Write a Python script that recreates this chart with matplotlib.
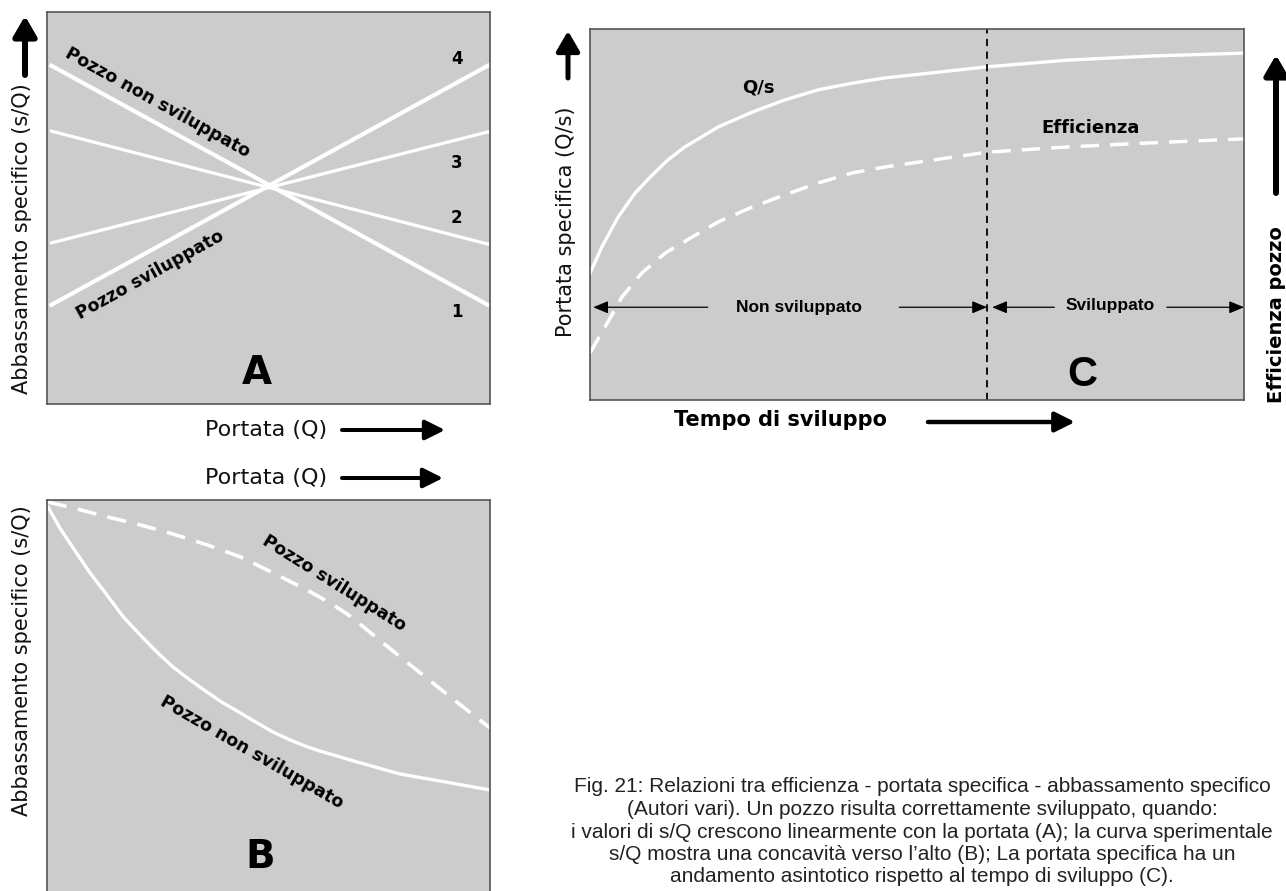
import matplotlib
matplotlib.use("Agg")
import matplotlib.pyplot as plt

W, H = 1286, 891
GRAY = "#cccccc"
EDGE = "#555555"
NARROW = ["Liberation Sans Narrow", "Liberation Sans", "DejaVu Sans"]

# --- panel A: straight s/Q lines (x from 0 to 10) ---
a_x = [0.1, 9.95]
a_line1 = [8.63, 2.53]   # pozzo non sviluppato
a_line2 = [6.96, 4.08]
a_line3 = [4.11, 6.94]
a_line4 = [2.53, 8.63]   # pozzo sviluppato
a_labels = ["4", "3", "2", "1"]
a_label_y = [8.8, 6.15, 4.75, 2.35]

# --- panel B: curves of s/Q (axis pointing down) ---
b_dev_x = [0.02, 0.59, 1.35, 2.1, 2.84, 3.61, 4.36, 5.1, 5.87, 6.46, 6.84, 7.97, 9.1, 10.0]
b_dev_y = [9.95, 9.8, 9.58, 9.38, 9.15, 8.88, 8.58, 8.18, 7.75, 7.38, 7.1, 6.08, 5.08, 4.3]
b_non_x = [0.02, 0.29, 0.59, 0.97, 1.35, 1.72, 2.1, 2.48, 2.84, 3.23, 3.61, 3.97,
           4.36, 4.74, 5.1, 5.49, 5.87, 6.23, 6.61, 6.84, 7.97, 9.1, 10.0]
b_non_y = [9.83, 9.3, 8.8, 8.18, 7.63, 7.08, 6.63, 6.2, 5.83, 5.5, 5.2, 4.93,
           4.68, 4.43, 4.2, 4.0, 3.83, 3.7, 3.58, 3.5, 3.15, 2.93, 2.75]

# --- panel C: Q/s and efficiency vs development time ---
c_qs_x = [0, 0.18, 0.43, 0.69, 0.95, 1.19, 1.45, 1.96, 2.48, 2.98, 3.49, 4.01,
          4.51, 6.07, 7.29, 8.56, 10.0]
c_qs_y = [3.42, 4.12, 4.93, 5.58, 6.06, 6.47, 6.82, 7.36, 7.76, 8.09, 8.36, 8.54,
          8.68, 8.98, 9.16, 9.27, 9.35]
c_eff_x = [0, 0.23, 0.49, 0.79, 1.15, 1.56, 1.96, 2.48, 2.98, 3.49, 4.01, 4.51,
           6.07, 7.29, 8.56, 10.0]
c_eff_y = [1.27, 1.97, 2.78, 3.42, 3.96, 4.39, 4.8, 5.2, 5.53, 5.85, 6.12, 6.28,
           6.68, 6.82, 6.93, 7.04]
c_split = 6.07

caption = [
    "Fig. 21: Relazioni tra efficienza - portata specifica - abbassamento specifico",
    "(Autori vari). Un pozzo risulta correttamente sviluppato, quando:",
    "i valori di s/Q crescono linearmente con la portata (A); la curva sperimentale",
    "s/Q mostra una concavità verso l’alto (B); La portata specifica ha un",
    "andamento asintotico rispetto al tempo di sviluppo (C).",
]


def rect(x0, y0, x1, y1):
    # pixel box (top-left origin) -> figure fraction
    return [x0 / W, 1 - y1 / H, (x1 - x0) / W, (y1 - y0) / H]


def panel(r):
    ax = fig.add_axes(r)
    ax.set_facecolor(GRAY)
    ax.set_xlim(0, 10)
    ax.set_ylim(0, 10)
    ax.set_xticks([])
    ax.set_yticks([])
    for s in ax.spines.values():
        s.set_color(EDGE)
        s.set_linewidth(1.2)
    return ax


fig = plt.figure(figsize=(W / 100, H / 100), dpi=100)

# overlay in pixel coordinates for outer labels and big arrows
ov = fig.add_axes([0, 0, 1, 1])
ov.set_xlim(0, W)
ov.set_ylim(H, 0)
ov.axis("off")


def arrow(tail, tip, lw, hl, hw):
    ov.annotate("", xy=tip, xytext=tail,
                arrowprops=dict(arrowstyle=f"-|>,head_length={hl},head_width={hw}",
                                lw=lw, color="black", shrinkA=0, shrinkB=0,
                                mutation_scale=1))


dash = (0, (5.3, 3.2))

# panel A
axA = panel(rect(47, 12, 490, 404))
axA.plot(a_x, a_line1, color="white", lw=3.0)
axA.plot(a_x, a_line2, color="white", lw=2.3)
axA.plot(a_x, a_line3, color="white", lw=2.3)
axA.plot(a_x, a_line4, color="white", lw=3.0)
for lab, y in zip(a_labels, a_label_y):
    axA.text(9.25, y, lab, ha="center", va="center", fontsize=12, fontweight="bold")
axA.text(2.5, 7.68, "Pozzo non sviluppato", rotation=-29, rotation_mode="anchor",
         ha="center", va="center", fontsize=12.5, fontweight="bold")
axA.text(2.33, 3.29, "Pozzo sviluppato", rotation=29, rotation_mode="anchor",
         ha="center", va="center", fontsize=12.5, fontweight="bold")
axA.text(4.74, 0.8, "A", ha="center", va="center", fontsize=28, fontweight="bold")

# panel B
axB = panel(rect(47, 500, 490, 900))
axB.plot(b_dev_x, b_dev_y, color="white", lw=2.6, linestyle=dash)
axB.plot(b_non_x, b_non_y, color="white", lw=2.4)
axB.text(6.48, 7.93, "Pozzo sviluppato", rotation=-32, rotation_mode="anchor",
         ha="center", va="center", fontsize=12.5, fontweight="bold")
axB.text(4.63, 3.7, "Pozzo non sviluppato", rotation=-30, rotation_mode="anchor",
         ha="center", va="center", fontsize=12.5, fontweight="bold")
axB.text(4.81, 1.08, "B", ha="center", va="center", fontsize=28, fontweight="bold")

# panel C
axC = panel(rect(590, 29, 1244, 400))
axC.plot(c_qs_x, c_qs_y, color="white", lw=2.4)
axC.plot(c_eff_x, c_eff_y, color="white", lw=2.5, linestyle=dash)
axC.axvline(c_split, color="black", lw=1.3, linestyle=(0, (4, 3)))
axC.text(2.58, 8.41, "Q/s", ha="center", va="center", fontsize=13, fontweight="bold")
axC.text(7.65, 7.33, "Efficienza", ha="center", va="center", fontsize=13, fontweight="bold")
axC.text(7.52, 0.67, "C", ha="center", va="center", fontsize=30, fontweight="bold",
         family=NARROW)
ay = 2.5
small = dict(arrowstyle="-|>,head_length=0.6,head_width=0.25", lw=0.9, color="black",
             shrinkA=0, shrinkB=0, mutation_scale=15)
axC.text(3.2, ay, "Non sviluppato", ha="center", va="center", fontsize=12.5,
         fontweight="bold", family=NARROW)
axC.annotate("", xy=(0.05, ay), xytext=(1.8, ay), arrowprops=small)
axC.annotate("", xy=(c_split, ay), xytext=(4.73, ay), arrowprops=small)
axC.text(7.95, ay + 0.05, "Sviluppato", ha="center", va="center", fontsize=12.5,
         fontweight="bold", family=NARROW)
axC.annotate("", xy=(c_split + 0.08, ay), xytext=(7.1, ay), arrowprops=small)
axC.annotate("", xy=(10, ay), xytext=(8.82, ay), arrowprops=small)

# outer labels and arrows
ov.text(22, 239, "Abbassamento specifico (s/Q)", rotation=90, ha="center", va="center",
        fontsize=15, color="#111111")
arrow((25, 75), (25, 16), 4.3, 12, 7)
ov.text(266, 430, "Portata (Q)", ha="center", va="center", fontsize=16, color="#111111")
arrow((342, 430), (445, 430), 2.9, 12, 6)
ov.text(266, 478, "Portata (Q)", ha="center", va="center", fontsize=16, color="#111111")
arrow((342, 478), (443, 478), 2.9, 12, 6)
ov.text(22, 661, "Abbassamento specifico (s/Q)", rotation=90, ha="center", va="center",
        fontsize=15, color="#111111")
arrow((25, 833), (25, 892), 4.3, 12, 7)

ov.text(566, 222, "Portata specifica (Q/s)", rotation=90, ha="center", va="center",
        fontsize=15, color="#111111")
arrow((568, 78), (568, 31), 3.6, 12, 7)
ov.text(780, 420, "Tempo di sviluppo", ha="center", va="center", fontsize=15,
        fontweight="bold")
arrow((928, 422), (1075, 422), 3.2, 12, 6)
ov.text(1277, 315, "Efficienza pozzo", rotation=90, ha="center", va="center",
        fontsize=14, fontweight="bold")
arrow((1276, 193), (1276, 55), 4.3, 12, 7)

for i, line in enumerate(caption):
    ov.text(922, 787 + i * 22.5, line, ha="center", va="center", fontsize=15,
            family=NARROW, color="#222222")

fig.savefig("out.png", dpi=100)
